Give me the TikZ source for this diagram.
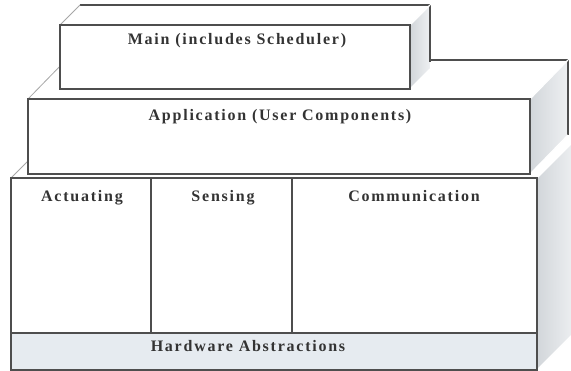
\documentclass[tikz,border=0pt]{standalone}
\usepackage{fontspec}
\setmainfont[LetterSpace=11]{Liberation Serif}
\definecolor{edge}{HTML}{4E4E4E}
\definecolor{txt}{HTML}{333333}
\definecolor{hw}{HTML}{E6EBF0}
\definecolor{sideA}{HTML}{D2D6DA}
\definecolor{sideB}{HTML}{EEF0F2}
\tikzset{
  front/.style={draw=edge, fill=white, line width=1.1pt},
  backedge/.style={draw=edge, line width=1.1pt},
  slant/.style={draw=gray!70, line width=0.8pt},
  shine/.style={draw=white, line width=1.2pt},
  sideface/.style={left color=sideA, right color=sideB},
  lbl/.style={font=\bfseries\fontsize{16}{18}\selectfont, text=txt, inner sep=0pt, anchor=base}
}
\begin{document}
\begin{tikzpicture}[x=1pt,y=-1pt]
\useasboundingbox (0,0) rectangle (571,371);
% ---- bottom box (components) ----
\fill[white] (11,178) -- (537,178) -- (575,140) -- (49,140) -- cycle;
\draw[slant] (11,178) -- (49,140);
\shade[sideface] (537,178) -- (575,140) -- (575,332) -- (537,370) -- cycle;
\draw[shine] (537,178) -- (575,140);
\draw[shine] (537,370) -- (575,332);
\draw[front] (11,178) rectangle (537,370);
\draw[front, fill=hw] (11,333) rectangle (537,370);
\draw[backedge] (151,178) -- (151,333);
\draw[backedge] (292,178) -- (292,333);
% ---- application box ----
\fill[white] (28,99) -- (530,99) -- (568,60) -- (66,60) -- cycle;
\draw[backedge] (66,60) -- (568,60);
\draw[slant] (28,99) -- (66,60);
\shade[sideface] (530,99) -- (568,60) -- (568,135) -- (530,174) -- cycle;
\draw[backedge] (568,60) -- (568,135);
\draw[shine] (530,99) -- (568,60);
\draw[shine] (530,174) -- (568,135);
\draw[front] (28,99) rectangle (530,174);
% ---- main box ----
\fill[white] (60,25) -- (410,25) -- (430,5) -- (80,5) -- cycle;
\draw[backedge] (80,5) -- (430,5);
\draw[slant] (60,25) -- (80,5);
\shade[sideface] (410,25) -- (430,5) -- (430,69) -- (410,89) -- cycle;
\draw[backedge] (430,5) -- (430,62);
\draw[shine] (410,25) -- (430,5);
\draw[shine] (410,89) -- (430,69);
\draw[front] (60,25) rectangle (410,89);
% ---- labels ----
\node[lbl] (main) at (237,45) {Main (includes Scheduler)};
\node[lbl] (app) at (280,121) {Application (User Components)};
\node[lbl] (act) at (82,202) {Actuating};
\node[lbl] (sen) at (223,202) {Sensing};
\node[lbl] (com) at (414,202) {Communication};
\node[lbl] (hwa) at (248,352) {Hardware Abstractions};
\end{tikzpicture}
\end{document}
